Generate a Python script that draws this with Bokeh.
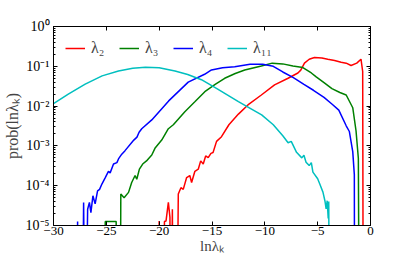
from bokeh.plotting import figure
from bokeh.models import (FixedTicker, LinearAxis, LogAxis, Range1d, Legend, LegendItem,
                          CustomLabelingPolicy)
from bokeh.embed import file_html
from bokeh.resources import INLINE

FLOOR = 1e-9  # empty bins (drawn below the axis, clipped)

# lambda_2 (red)
l2_x = [-20.1, -20.0, -19.9, -19.6, -19.5, -19.35, -19.13, -18.98, -18.9, -18.75, -18.65,
        -18.35, -18.19, -17.94, -17.72, -17.4, -17.1, -16.93, -16.62, -16.3, -16.07, -15.83,
        -15.6, -15.36, -15.1, -14.9, -14.57, -14.1, -13.4, -12.5, -11.6, -10.33, -9.08, -7.8,
        -6.87, -6.6, -6.25, -5.8, -5.3, -4.6, -4.04, -3.4, -2.78, -2.3, -1.84, -1.3, -0.9,
        -0.74, -0.68]
l2_y = [FLOOR, 1.3e-5, FLOOR, FLOOR, 1.26e-5, 1.3e-5, 3.8e-5, 1.6e-5, FLOOR, 2.57e-5, FLOOR,
        FLOOR, 6.2e-5, 8.9e-5, 8.1e-5, 1.6e-4, 1.8e-4, 1.2e-4, 2.3e-4, 2.6e-4, 4.2e-4, 3.5e-4,
        5.6e-4, 5.1e-4, 6.5e-4, 6.8e-4, 1.3e-3, 1.7e-3, 3.4e-3, 6.3e-3, 1.07e-2, 1.9e-2, 3.4e-2, 5.0e-2,
        6.8e-2, 8.0e-2, 0.12, 0.15, 0.166, 0.162, 0.151, 0.14, 0.126, 0.12, 0.105, 0.12, 0.151,
        0.074, FLOOR]

# lambda_3 (green)
l3_x = [-25.3, -25.1, -24.07, -24.0, -23.7, -23.63, -23.32, -22.9, -22.6, -22.28, -22.12,
        -21.87, -21.56, -21.2, -20.7, -20.4, -19.76, -19.13, -18.66, -17.57, -16.6, -15.68,
        -14.7, -13.8, -12.8, -11.9, -10.33, -9.3, -8.3, -7.34, -6.4, -5.6, -5.14, -4.4, -3.65,
        -2.9, -2.3, -1.68, -1.37, -1.15, -1.05]
l3_y = [FLOOR, 1.26e-5, 1.26e-5, FLOOR, FLOOR, 6.2e-5, 5.0e-5, 6.8e-5, 1.2e-4, 1.8e-4, 1.45e-4,
        2.6e-4, 3.5e-4, 4.2e-4, 5.9e-4, 8.7e-4, 1.4e-3, 2.7e-3, 3.4e-3, 7.2e-3, 1.3e-2, 2.3e-2,
        3.5e-2, 5.0e-2, 6.6e-2, 8.1e-2, 0.102, 0.12, 0.115, 0.102, 0.093, 0.068, 0.054, 0.039, 0.0275,
        0.022, 0.019, 0.0091, 0.0024, 4.9e-4, FLOOR]

# lambda_4 (blue)
l4_x = [-27.8, -27.72, -27.65, -27.3, -27.15, -27.0, -26.77, -26.6, -26.46, -26.27, -26.06,
        -25.83, -25.64, -25.42, -25.1, -24.8, -24.64, -24.32, -24.0, -23.85, -23.54, -23.23,
        -22.4, -22.1, -21.9, -21.65, -20.7, -19.1, -17.25, -15.7, -15.05, -14.0, -12.85, -11.4,
        -10.2, -9.2, -8.3, -7.3, -6.3, -5.4, -4.4, -3.6, -3.0, -2.3, -2.0, -1.68, -1.53, -1.5]
l4_y = [FLOOR, 1.26e-5, FLOOR, FLOOR, 3.8e-5, FLOOR, 2.57e-5, 3.8e-5, 2.1e-5, 5.6e-5, 3.5e-5,
        7.4e-5, 8.1e-5, 1.1e-4, 1.6e-4, 2.3e-4, 2.1e-4, 3.5e-4, 3.8e-4, 4.7e-4, 6.2e-4, 7.6e-4,
        1.4e-3, 1.66e-3, 2.2e-3, 2.7e-3, 4.5e-3, 1.35e-2, 4.0e-2, 6.3e-2, 8.1e-2, 9.2e-2, 0.098, 0.112,
        0.112, 0.1, 0.072, 0.052, 0.035, 0.025, 0.0166, 0.011, 0.0079, 0.0032, 0.0023, 7.2e-4, 1.9e-4, FLOOR]

# lambda_11 (cyan)
l11_x = [-30.0, -28.6, -27.0, -25.4, -23.85, -22.5, -21.3, -20.0, -18.5, -17.3, -16.0, -14.5,
         -12.5, -11.3, -10.3, -9.2, -8.3, -7.8, -7.5, -7.0, -6.5, -6.3, -6.1, -5.8, -5.6,
         -5.45, -5.0, -4.8, -4.5, -4.3, -4.2, -4.1, -4.0, -3.95, -3.88]
l11_y = [0.0115, 0.020, 0.0355, 0.0575, 0.076, 0.089, 0.095, 0.092, 0.076, 0.062, 0.046, 0.027,
         0.0129, 0.0085, 0.0060, 0.0034, 0.0018, 0.0012, 0.0013, 6.9e-4, 5.0e-4, 5.8e-4, 3.9e-4,
         3.2e-4, 3.8e-4, 2.2e-4, 1.5e-4, 1.1e-4, 6.9e-5, 4.0e-5, 2.6e-5, 4.2e-5, 1.5e-5, 4.0e-5, FLOOR]

series = [("λ₂", l2_x, l2_y, "#ff0000"),
          ("λ₃", l3_x, l3_y, "#008000"),
          ("λ₄", l4_x, l4_y, "#0000ff"),
          ("λ₁₁", l11_x, l11_y, "#00bfbf")]

x_ticks = [-30, -25, -20, -15, -10, -5, 0]
x_tick_labels = ["−30", "−25", "−20", "−15", "−10", "−5", "0"]
y_ticks = [1e-5, 1e-4, 1e-3, 1e-2, 1e-1, 1e0]
y_tick_labels = ["10⁻⁵", "10⁻⁴", "10⁻³", "10⁻²", "10⁻¹", "10⁰"]
y_minor = [m * t for t in y_ticks[:-1] for m in range(2, 10)]

FONT = "Liberation Serif"

p = figure(width=411, height=257, output_backend="svg", toolbar_location=None,
           y_axis_type="log", x_range=Range1d(-30, 0), y_range=Range1d(1e-5, 1),
           min_border_left=52, min_border_right=41, min_border_top=26, min_border_bottom=32)
p.xgrid.visible = False
p.ygrid.visible = False
p.outline_line_color = "black"
p.outline_line_width = 1
p.background_fill_color = "white"

renderers = []
for name, xs, ys, col in series:
    r = p.line(xs, ys, line_color=col, line_width=1.5)
    renderers.append((name, r))

no_labels = CustomLabelingPolicy(code="return new Set()")


def style(ax, labels=True):
    ax.axis_line_color = "black"
    ax.major_tick_in = 4
    ax.major_tick_out = 0
    ax.minor_tick_in = 2
    ax.minor_tick_out = 0
    ax.major_tick_line_color = "black"
    ax.minor_tick_line_color = "black"
    ax.major_label_text_font = FONT
    ax.major_label_text_font_size = "14px"
    ax.major_label_text_color = "black"
    if not labels:
        ax.major_label_policy = no_labels
        ax.major_label_standoff = 0


xa = p.xaxis[0]
xa.ticker = FixedTicker(ticks=x_ticks)
xa.major_label_overrides = {t: s for t, s in zip(x_ticks, x_tick_labels)}
style(xa)
xa.major_label_text_font_size = "13px"
xa.minor_tick_in = 0
xa.major_label_standoff = 1
xa.axis_label = "lnλₖ"
xa.axis_label_text_font = FONT
xa.axis_label_text_font_style = "normal"
xa.axis_label_text_font_size = "15px"
xa.axis_label_standoff = 0

ya = p.yaxis[0]
ya.ticker = FixedTicker(ticks=y_ticks, minor_ticks=y_minor)
ya.major_label_overrides = {t: s for t, s in zip(y_ticks, y_tick_labels)}
style(ya)
ya.major_label_standoff = 4
ya.axis_label = "prob(lnλₖ)"
ya.axis_label_text_font = FONT
ya.axis_label_text_font_style = "normal"
ya.axis_label_text_font_size = "16px"
ya.axis_label_standoff = 2

top = LinearAxis(ticker=FixedTicker(ticks=x_ticks))
style(top, labels=False)
top.minor_tick_in = 0
p.add_layout(top, "above")
right = LogAxis(ticker=FixedTicker(ticks=y_ticks, minor_ticks=y_minor))
style(right, labels=False)
p.add_layout(right, "right")

legend = Legend(items=[LegendItem(label=n, renderers=[r]) for n, r in renderers],
                location="top_left", orientation="horizontal")
legend.border_line_alpha = 0
legend.background_fill_alpha = 0
legend.glyph_width = 20
legend.label_standoff = 6
legend.spacing = 8
legend.margin = 6
legend.padding = 6
legend.label_text_font = FONT
legend.label_text_font_size = "16px"
p.add_layout(legend)

open("out.html", "w").write(file_html(p, INLINE))
